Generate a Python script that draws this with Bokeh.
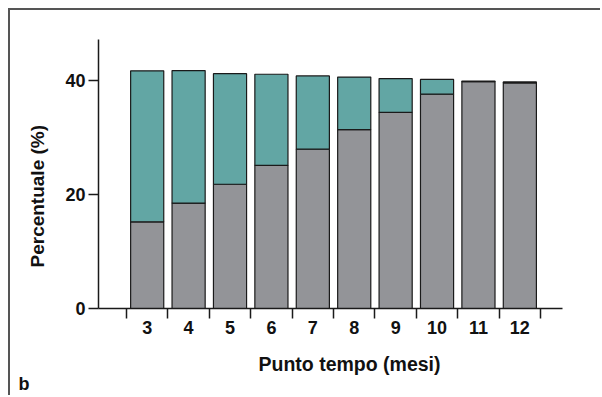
from bokeh.plotting import figure
from bokeh.models import FixedTicker, Range1d, ColumnDataSource, Title, Label
from bokeh.embed import file_html
from bokeh.resources import INLINE

months = [3, 4, 5, 6, 7, 8, 9, 10, 11, 12]
month_labels = ["3", "4", "5", "6", "7", "8", "9", "10", "11", "12"]
gray_vals = [15.2, 18.5, 21.8, 25.1, 27.95, 31.4, 34.4, 37.6, 39.8, 39.6]
teal_vals = [26.5, 23.25, 19.4, 16.0, 12.85, 9.2, 5.95, 2.6, 0.1, 0.15]
y_ticks = [0, 20, 40]

FONT = "Liberation Sans"
GRAY = "#939498"
TEAL = "#62a6a4"
INK = "#111111"

src = ColumnDataSource(dict(x=months, gray=gray_vals, teal=teal_vals))

p = figure(width=592, height=387, output_backend="svg", toolbar_location=None,
           x_range=Range1d(1.824, 13.03), y_range=Range1d(0, 47.2),
           min_border_left=88, min_border_right=40, min_border_top=29,
           min_border_bottom=89)
p.styles = {"margin-left": "8px", "margin-top": "8px",
            "border-top": "2px solid #555", "border-left": "2px solid #555"}
p.outline_line_color = None
p.xgrid.visible = False
p.ygrid.visible = False

p.vbar_stack(["gray", "teal"], x="x", width=0.8, source=src,
             fill_color=[GRAY, TEAL], line_color="#1a1a1a", line_width=1.2)

# x axis
p.xaxis.ticker = FixedTicker(ticks=months, minor_ticks=[m - 0.5 for m in months] + [12.5])
p.xaxis.major_label_overrides = {m: l for m, l in zip(months, month_labels)}
p.xaxis.major_tick_line_color = None
p.xaxis.major_tick_out = 10
p.xaxis.major_tick_in = 0
p.xaxis.minor_tick_out = 10
p.xaxis.minor_tick_in = 0
p.xaxis.minor_tick_line_color = "#1a1a1a"
p.xaxis.minor_tick_line_width = 1.5
p.xaxis.major_label_standoff = 2

# y axis
p.yaxis.ticker = FixedTicker(ticks=y_ticks)
p.yaxis.minor_tick_line_color = None
p.yaxis.major_tick_out = 10
p.yaxis.major_tick_in = 0
p.yaxis.major_tick_line_color = "#1a1a1a"
p.yaxis.major_tick_line_width = 1.5
p.yaxis.major_label_standoff = 3

for ax in (p.xaxis, p.yaxis):
    ax.axis_line_color = "#1a1a1a"
    ax.axis_line_width = 1.5
    ax.major_label_text_font = FONT
    ax.major_label_text_font_style = "bold"
    ax.major_label_text_font_size = "18px"
    ax.major_label_text_color = INK

ylab = Title(text="Percentuale (%)", align="left", offset=41, standoff=29,
             text_font=FONT, text_font_style="bold", text_font_size="19px",
             text_color=INK)
p.add_layout(ylab, "left")
xlab = Title(text="Punto tempo (mesi)", align="left", offset=160, standoff=28,
             text_font=FONT, text_font_style="bold", text_font_size="19.5px",
             text_color=INK)
p.add_layout(xlab, "below")
blab = Label(x=-0.11, y=-13.2, text="b", text_align="left",
             text_baseline="middle",
             text_font=FONT, text_font_style="bold", text_font_size="18px",
             text_color=INK)
p.add_layout(blab, "right")

open("out.html", "w").write(file_html(p, INLINE))
